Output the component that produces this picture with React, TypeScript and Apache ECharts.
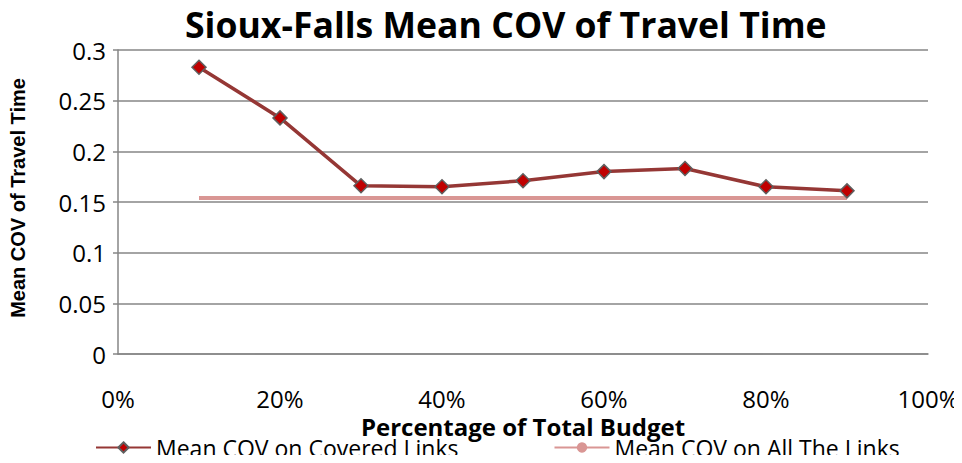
import React, { useEffect, useRef } from "react";
import * as echarts from "echarts";

const budgetPct = [10, 20, 30, 40, 50, 60, 70, 80, 90];
const covCovered = [0.283, 0.233, 0.166, 0.165, 0.171, 0.18, 0.183, 0.165, 0.161];
const covAll = [0.154, 0.154, 0.154, 0.154, 0.154, 0.154, 0.154, 0.154, 0.154];
const seriesNames = ["Mean COV on Covered Links", "Mean COV on All The Links"];

const FONT = "'Open Sans', 'Noto Sans', sans-serif";

export default function App() {
  const ref = useRef<HTMLDivElement>(null);
  useEffect(() => {
    if (!ref.current) return;
    const chart = echarts.init(ref.current, undefined, { renderer: "svg" });
    chart.setOption({
      animation: false,
      backgroundColor: "#ffffff",
      title: {
        text: "Sioux-Falls Mean COV of Travel Time",
        left: 185,
        top: 2,
        padding: 0,
        textStyle: { fontFamily: FONT, fontWeight: "bold", fontSize: 35.6, lineHeight: 44, color: "#000" },
      },
      grid: { left: 118, right: 34, top: 50, bottom: 109 },
      legend: {
        left: 95,
        top: 436,
        padding: 0,
        itemWidth: 55,
        itemHeight: 13,
        itemGap: 95,
        textStyle: { fontFamily: FONT, fontSize: 23, lineHeight: 20, color: "#000" },
        data: seriesNames,
      },
      xAxis: {
        type: "value",
        min: 0,
        max: 100,
        interval: 20,
        name: "Percentage of Total Budget",
        nameLocation: "middle",
        nameGap: 60,
        nameTextStyle: { fontFamily: FONT, fontWeight: "bold", fontSize: 24, lineHeight: 18, color: "#000" },
        axisLine: { show: true, lineStyle: { color: "#868686", width: 1.5 } },
        axisTick: { show: false },
        splitLine: { show: false },
        axisLabel: {
          margin: 35,
          fontFamily: FONT,
          fontSize: 24,
          lineHeight: 18,
          color: "#000",
          formatter: (v: number) => `${v}%`,
        },
      },
      yAxis: {
        type: "value",
        min: 0,
        max: 0.3,
        interval: 0.05,
        name: "Mean COV of Travel Time",
        nameLocation: "middle",
        nameGap: 90,
        nameRotate: 90,
        nameTextStyle: {
          fontFamily: "'Liberation Sans', Arial, sans-serif",
          fontWeight: "bold",
          fontSize: 20,
          color: "#000",
          padding: [0, 0, 0, 8],
        },
        axisLine: { show: true, lineStyle: { color: "#868686", width: 1.5 } },
        axisTick: { show: true, length: 5, lineStyle: { color: "#868686", width: 1.5 } },
        splitLine: { show: true, lineStyle: { color: "#868686", width: 1.5 } },
        axisLabel: {
          margin: 12,
          fontFamily: FONT,
          fontSize: 24,
          color: "#000",
          formatter: (v: number) => String(Math.round(v * 100) / 100),
        },
      },
      series: [
        {
          name: seriesNames[1],
          type: "line",
          data: budgetPct.map((x, i) => [x, covAll[i]]),
          symbol: "none",
          lineStyle: { color: "#D99694", width: 4 },
          itemStyle: { color: "#D99694" },
          z: 2,
        },
        {
          name: seriesNames[0],
          type: "line",
          data: budgetPct.map((x, i) => [x, covCovered[i]]),
          symbol: "diamond",
          symbolSize: 14,
          lineStyle: { color: "#953735", width: 3.5 },
          itemStyle: { color: "#C00000", borderColor: "#5F5F5F", borderWidth: 1.5 },
          z: 3,
        },
      ],
    });
    return () => chart.dispose();
  }, []);
  return <div ref={ref} style={{ width: 962, height: 463, margin: -8 }} />;
}
